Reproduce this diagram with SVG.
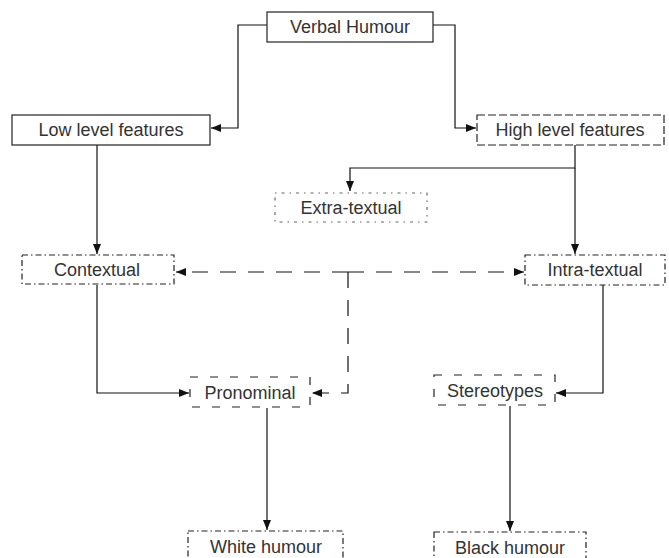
<svg xmlns="http://www.w3.org/2000/svg" width="669" height="558" viewBox="0 0 669 558">
<defs>
<marker id="ah" viewBox="0 0 10 10" refX="10" refY="5" markerWidth="10" markerHeight="10" markerUnits="userSpaceOnUse" orient="auto">
<path d="M0,1 L10,5 L0,9 Z" fill="#111"/>
</marker>
</defs>
<style>
.box{fill:#fff;stroke:#222;stroke-width:1.2}
.solid{}
.dash{stroke-dasharray:8 3}
.dot{stroke:#666;stroke-dasharray:1.5 5 3 5}
.dashdot{stroke-dasharray:6 3 1.5 3}
.longdash{stroke-dasharray:8 12}
text{font-family:"Liberation Sans",Arial,sans-serif;font-size:18px;fill:#333;text-anchor:middle}
.c{fill:none;stroke:#111;stroke-width:1.2}
.cd{stroke-dasharray:16 12}
</style>
<g id="connectors">
<path class="c" d="M267,25 H238 V128 H211" marker-end="url(#ah)"/>
<path class="c" d="M433,25 H455 V128 H476" marker-end="url(#ah)"/>
<path class="c" d="M575,145 V168 H350 V191" marker-end="url(#ah)"/>
<path class="c" d="M575,168 V254" marker-end="url(#ah)"/>
<path class="c" d="M97,145 V254" marker-end="url(#ah)"/>
<path class="c cd" d="M348,272 H176" marker-end="url(#ah)"/>
<path class="c cd" d="M348,272 H524" marker-end="url(#ah)"/>
<path class="c cd" d="M348,272 V393 H312" marker-end="url(#ah)"/>
<path class="c" d="M97,285 V393 H189" marker-end="url(#ah)"/>
<path class="c" d="M603,285 V393 H556" marker-end="url(#ah)"/>
<path class="c" d="M267,408 V530" marker-end="url(#ah)"/>
<path class="c" d="M510,406 V531" marker-end="url(#ah)"/>
</g>
<g id="verbal-humour"><rect class="box solid" x="267" y="12" width="166" height="30"/><text x="350" y="33">Verbal Humour</text></g>
<g id="low-level"><rect class="box solid" x="12" y="115" width="198" height="30"/><text x="111" y="136">Low level features</text></g>
<g id="high-level"><rect class="box dash" x="477" y="115" width="187" height="30"/><text x="570" y="136">High level features</text></g>
<g id="extra-textual"><rect class="box dot" x="275" y="193" width="152" height="29"/><text x="351" y="214">Extra-textual</text></g>
<g id="contextual"><rect class="box dashdot" x="22" y="255" width="152" height="29"/><text x="97" y="276">Contextual</text></g>
<g id="intra-textual"><rect class="box dashdot" x="525" y="255" width="140" height="30"/><text x="595" y="276">Intra-textual</text></g>
<g id="pronominal"><rect class="box longdash" x="190" y="377" width="120" height="30"/><text x="250" y="399">Pronominal</text></g>
<g id="stereotypes"><rect class="box longdash" x="434" y="375" width="121" height="30"/><text x="495" y="397">Stereotypes</text></g>
<g id="white-humour"><rect class="box dashdot" x="188" y="531" width="155" height="40"/><text x="266" y="553">White humour</text></g>
<g id="black-humour"><rect class="box dashdot" x="434" y="532" width="152" height="40"/><text x="510" y="554">Black humour</text></g>
</svg>
